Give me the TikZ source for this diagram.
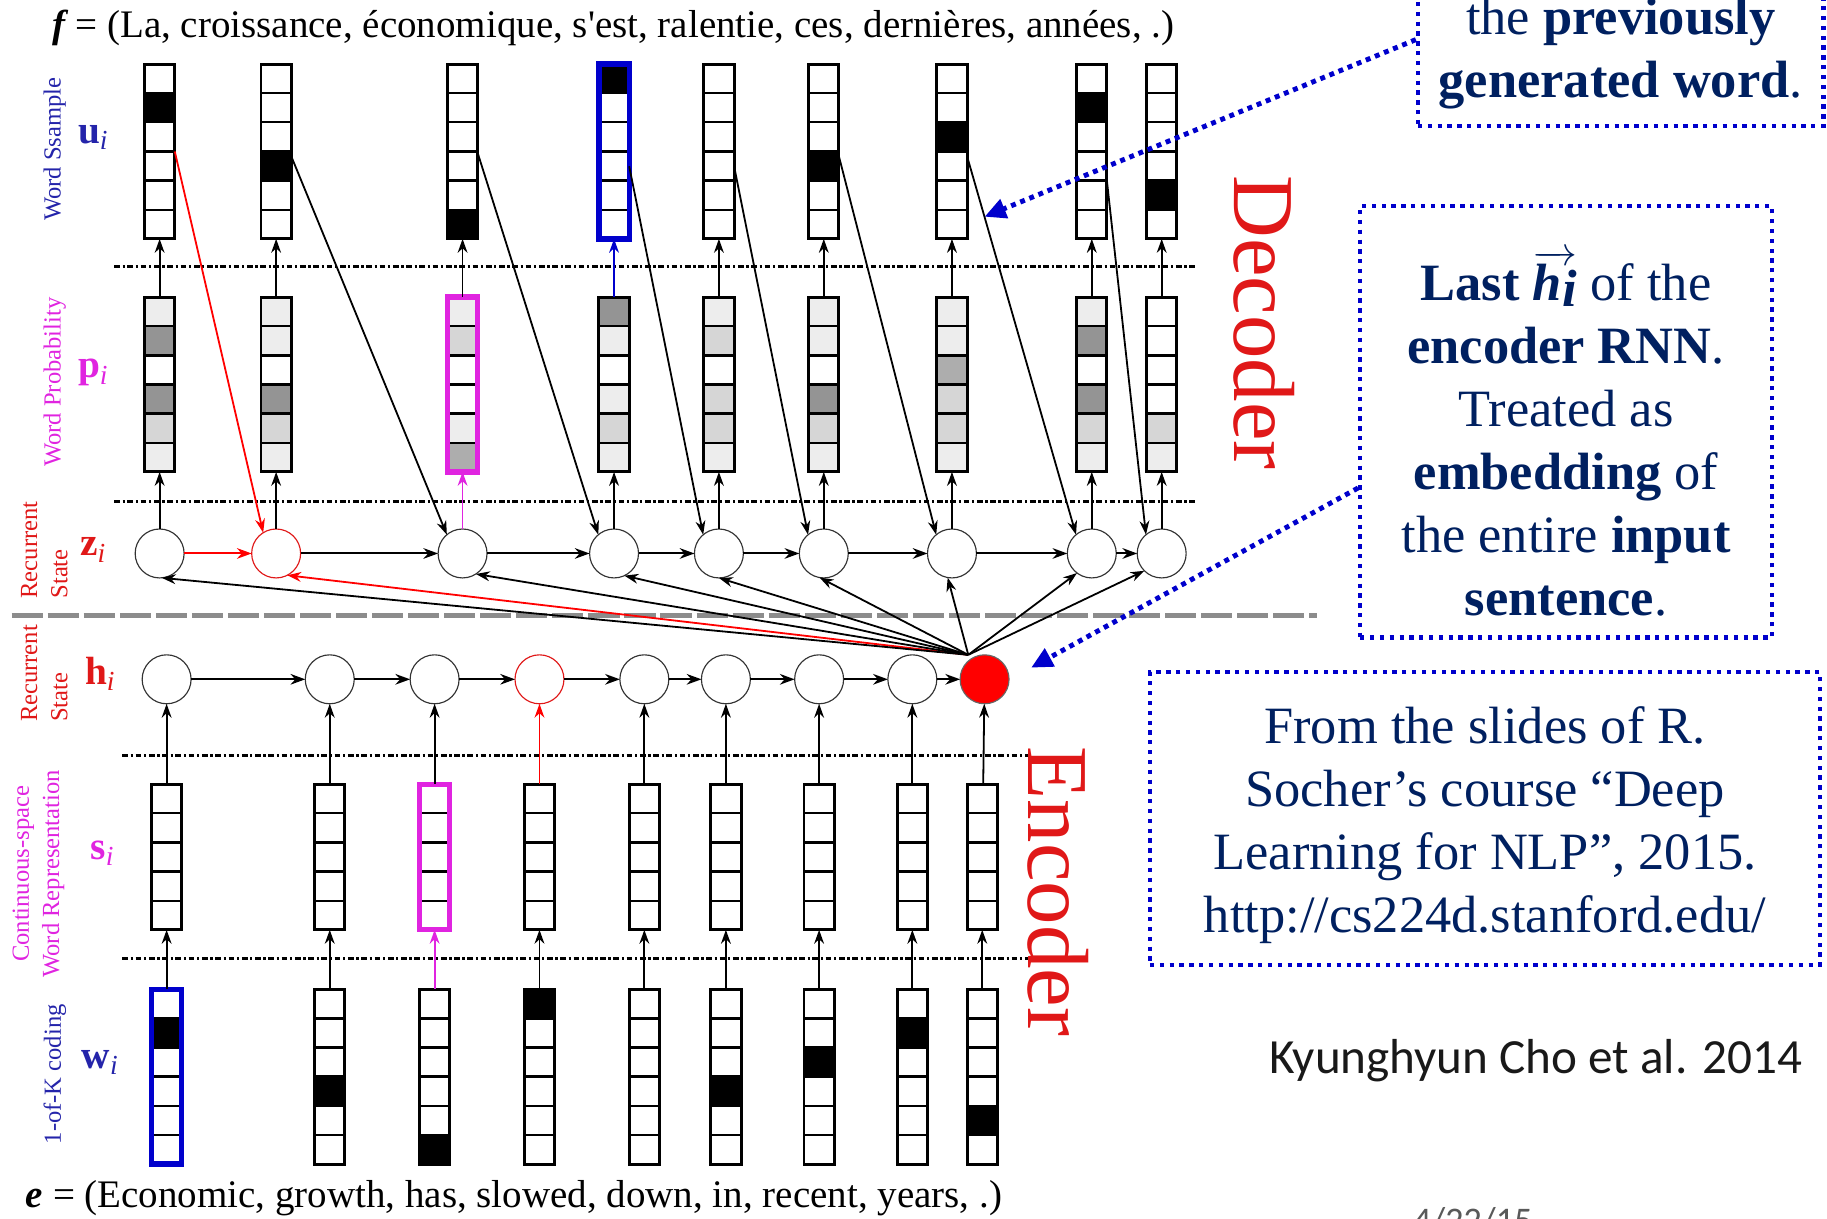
\documentclass[tikz,border=0pt]{standalone}
\usepackage{fontspec}
\setmainfont{Liberation Serif}
\newfontfamily\slidefont{Carlito}
\usetikzlibrary{arrows.meta}

\definecolor{noteblue}{HTML}{0000CC}
\definecolor{navy}{HTML}{002060}
\definecolor{lblblue}{HTML}{2424AA}
\definecolor{lblmag}{HTML}{E024E0}
\definecolor{lblred}{HTML}{E01818}
\colorlet{pL}{black!7}
\colorlet{pM}{black!16}
\colorlet{pK}{black!32}
\colorlet{pD}{black!42}

\begin{document}
\begin{tikzpicture}[x=0.025cm, y=-0.025cm,
    colnode/.style={rectangle, minimum width=0.65cm, inner sep=0pt, outer sep=0pt},
    colbox/.style={line width=1.8pt},
    cellsep/.style={line width=1.4pt},
    rnn/.style={circle, draw=black!80, line width=0.7pt, minimum size=1.05cm, inner sep=0pt, outer sep=0pt, fill=white},
    rnnred/.style={rnn, draw=lblred},
    rnnlast/.style={rnn, draw=black!60, fill=red},
    link/.style={-{Stealth[length=9pt,width=6.5pt]}, line width=1.2pt},
    feed/.style={-{Stealth[length=8.5pt,width=6pt]}, line width=1.1pt},
    layer/.style={line width=1.8pt, dash pattern=on 3.5pt off 1.6pt on 1.4pt off 1.6pt},
    note/.style={draw=noteblue, line width=2.6pt, dash pattern=on 2.6pt off 3.4pt, inner sep=0pt},
    pointer/.style={noteblue, line width=3pt, dash pattern=on 3pt off 3pt, -{Triangle[length=13pt,width=12pt]}},
    sidelabel/.style={rotate=90, font=\fontsize{15}{18.5}\selectfont, inner sep=0pt},
    varlabel/.style={font=\fontsize{24}{26}\selectfont\bfseries, inner sep=0pt},
    notetext/.style={navy, align=center, font=\fontsize{32}{38.5}\selectfont, inner sep=0pt},
    sentence/.style={anchor=west, font=\fontsize{23.8}{26}\selectfont, inner sep=0pt}]
\useasboundingbox (0,0) rectangle (1568,1046);

% sentences
\node[sentence] (ftitle) at (45,24) {\textbf{\textit{f}}\,= (La, croissance, économique, s\textquotesingle est, ralentie, ces, dernières, années, .)};
\node[sentence] (etitle) at (22,1028) {\textbf{\textit{e}} = (Economic, growth, has, slowed, down, in, recent, years, .)};

% layer separators
\draw[layer] (98,229) -- (1027,229);
\draw[layer] (98,430) -- (1027,430);
\draw[layer] (105,648) -- (882,648);
\draw[layer] (105,823) -- (882,823);
\draw[black!45, line width=2.8pt, dash pattern=on 19pt off 3pt] (10,528) -- (1130,528);

% decoder: sampled words u and probabilities p
\foreach \x/\r/\shades [count=\i] in {
    137/2/{pL,pD,white,pD,pM,pL},
    237/4/{pL,pL,white,pD,pM,pL},
    397/6/{pL,pM,white,white,pL,pK},
    527/1/{pD,pL,white,pL,pM,pL},
    617/0/{pL,pM,white,pM,pM,pL},
    707/4/{pL,pL,white,pD,pM,pL},
    817/3/{pL,pL,pK,pM,pM,pL},
    937/2/{pL,pD,white,pD,pM,pL},
    997/5/{white,white,white,white,pM,pL}} {
  \node[colnode, minimum height=3.75cm] (u\i) at (\x,130) {};
  \node[colnode, minimum height=3.75cm] (p\i) at (\x,330) {};
  \ifnum\r>0 \fill (u\i.north west) ++(0,{25*(\r-1)}) rectangle ++(26,25); \fi
  \foreach \s [count=\k] in \shades
    \fill[\s] (p\i.north west) ++(0,{25*(\k-1)}) rectangle ++(26,25);
  \foreach \k in {1,...,5} {
    \draw[cellsep] (u\i.north west) ++(0,25*\k) -- ++(26,0);
    \draw[cellsep] (p\i.north west) ++(0,25*\k) -- ++(26,0);
  }
  \draw[colbox] (u\i.north west) rectangle (u\i.south east);
  \draw[colbox] (p\i.north west) rectangle (p\i.south east);
}

% encoder: 1-of-K words w and embeddings s
\foreach \x/\r [count=\i] in {143/2,283/4,373/6,463/1,553/0,623/4,703/3,783/2,843/5} {
  \node[colnode, minimum height=3.75cm] (w\i) at (\x,924) {};
  \node[colnode, minimum height=3.125cm] (s\i) at (\x,735.5) {};
  \ifnum\r>0 \fill (w\i.north west) ++(0,{25*(\r-1)}) rectangle ++(26,25); \fi
  \foreach \k in {1,...,5}
    \draw[cellsep] (w\i.north west) ++(0,25*\k) -- ++(26,0);
  \foreach \k in {1,...,4}
    \draw[cellsep] (s\i.north west) ++(0,25*\k) -- ++(26,0);
  \draw[colbox] (w\i.north west) rectangle (w\i.south east);
  \draw[colbox] (s\i.north west) rectangle (s\i.south east);
}

% highlighted vectors
\draw[noteblue, line width=3.2pt] (u4.north west) rectangle (u4.south east);
\draw[noteblue, line width=3.2pt] (w1.north west) rectangle (w1.south east);
\draw[lblmag, line width=3.2pt] (p3.north west) rectangle (p3.south east);
\draw[lblmag, line width=3.2pt] (s3.north west) rectangle (s3.south east);

% recurrent states
\foreach \x/\st [count=\i] in {137/rnn,237/rnnred,397/rnn,527/rnn,617/rnn,707/rnn,817/rnn,937/rnn,997/rnn}
  \node[\st] (z\i) at (\x,475) {};
\foreach \x/\st [count=\i] in {143/rnn,283/rnn,373/rnn,463/rnnred,553/rnn,623/rnn,703/rnn,783/rnn,845/rnnlast}
  \node[\st] (h\i) at (\x,583) {};

\draw[link, red] (z1) -- (z2);
\foreach \i [evaluate=\i as \j using int(\i+1)] in {2,...,8}
  \draw[link] (z\i) -- (z\j);
\foreach \i [evaluate=\i as \j using int(\i+1)] in {1,...,8}
  \draw[link] (h\i) -- (h\j);

% bottom-up arrows
\foreach \i/\ca/\cb in {1/black/black,2/black/black,3/lblmag/black,4/black/noteblue,
    5/black/black,6/black/black,7/black/black,8/black/black,9/black/black} {
  \draw[feed, \ca] (z\i) -- (p\i);
  \draw[feed, \cb] (p\i) -- (u\i);
}
\foreach \i/\ca/\cb in {1/black/black,2/black/black,3/lblmag/black,4/black/red,
    5/black/black,6/black/black,7/black/black,8/black/black,9/black/black} {
  \draw[feed, \ca] (w\i) -- (s\i);
  \draw[feed, \cb] (s\i) -- (h\i);
}

% previous word fed back into the decoder
\draw[feed, red] (u1.east) -- (z2.122);
\foreach \i/\dy [evaluate=\i as \j using int(\i+1)] in {2/-3,3/-1,4/-9,5/-9,6/-3,7/-3,8/-18}
  \draw[feed] ([yshift=\dy pt]u\i.east) -- (z\j.130);

% context vector to every decoder state
\coordinate (fan) at (831,562);
\draw[feed, red] (fan) -- (z2.-63);
\foreach \i/\a in {1/-85,3/-57,4/-65,5/-90,6/-100,7/-100,8/-127,9/-135}
  \draw[feed] (fan) -- (z\i.\a);

% row labels
\node[sidelabel, lblblue] (lbu) at (47,128) {Word Ssample};
\node[varlabel, lblblue] (vu) at (80,118) {u\textsubscript{\mdseries\itshape i}};
\node[sidelabel, lblmag] (lbp) at (47,328) {Word Probability};
\node[varlabel, lblmag] (vp) at (80,320) {p\textsubscript{\mdseries\itshape i}};
\node[sidelabel, lblred, align=left] (lbz) at (38,472) {Recurrent\\State};
\node[varlabel, lblred] (vz) at (80,472) {z\textsubscript{\mdseries\itshape i}};
\node[sidelabel, lblred, align=left] (lbh) at (38,578) {Recurrent\\State};
\node[varlabel, lblred] (vh) at (86,578) {h\textsubscript{\mdseries\itshape i}};
\node[sidelabel, lblmag, align=center] (lbs) at (33,750) {Continuous-space\\Word Representation};
\node[varlabel, lblmag] (vs) at (88,732) {s\textsubscript{\mdseries\itshape i}};
\node[sidelabel, lblblue] (lbw) at (47,922) {1-of-K coding};
\node[varlabel, lblblue] (vw) at (86,912) {w\textsubscript{\mdseries\itshape i}};

\node[rotate=-90, lblred, font=\fontsize{53}{56}\selectfont, inner sep=0pt] (dec) at (1085,277) {Decoder};
\node[rotate=-90, lblred, font=\fontsize{53}{56}\selectfont, inner sep=0pt] (enc) at (908,765) {Encoder};

% notes
\node[note, minimum width=8.7cm, minimum height=3.7cm] (prevbox) at (1391,34) {};
\node[notetext] (prevtext) at (1391,46) {the \textbf{previously}\\\textbf{generated word}.};
\coordinate (prevtip) at (845,186);
\draw[pointer] (prevbox.west) -- (prevtip);

\node[note, minimum width=8.83cm, minimum height=9.25cm] (lastbox) at (1344,362) {};
\node[notetext] (lasttext) at (1344,372) {\textbf{Last} $\overrightarrow{\textbf{\textit{h}}_{\smash{\textbf{\textit{i}}}}}$ of the\\
  \textbf{encoder RNN}.\\Treated as\\\textbf{embedding} of\\the entire \textbf{input}\\\textbf{sentence}.};
\coordinate (lasttip) at (885,573);
\draw[pointer] ([yshift=-1.42cm]lastbox.west) -- (lasttip);

\node[note, minimum width=14.375cm, minimum height=6.275cm] (srcbox) at (1274.5,702.5) {};
\node[notetext] (srctext) at (1274.5,708) {From the slides of R.\\Socher’s course “Deep\\Learning for NLP”, 2015.\\http://cs224d.stanford.edu/};

\node[font=\slidefont\fontsize{30}{33}\selectfont, text=black!90, inner sep=0pt] (cite) at (1318,910) {Kyunghyun Cho et al. 2014};
\node[font=\slidefont\fontsize{22}{24}\selectfont, text=black!65, inner sep=0pt] (date) at (1264,1048) {4/22/15};
\end{tikzpicture}
\end{document}
